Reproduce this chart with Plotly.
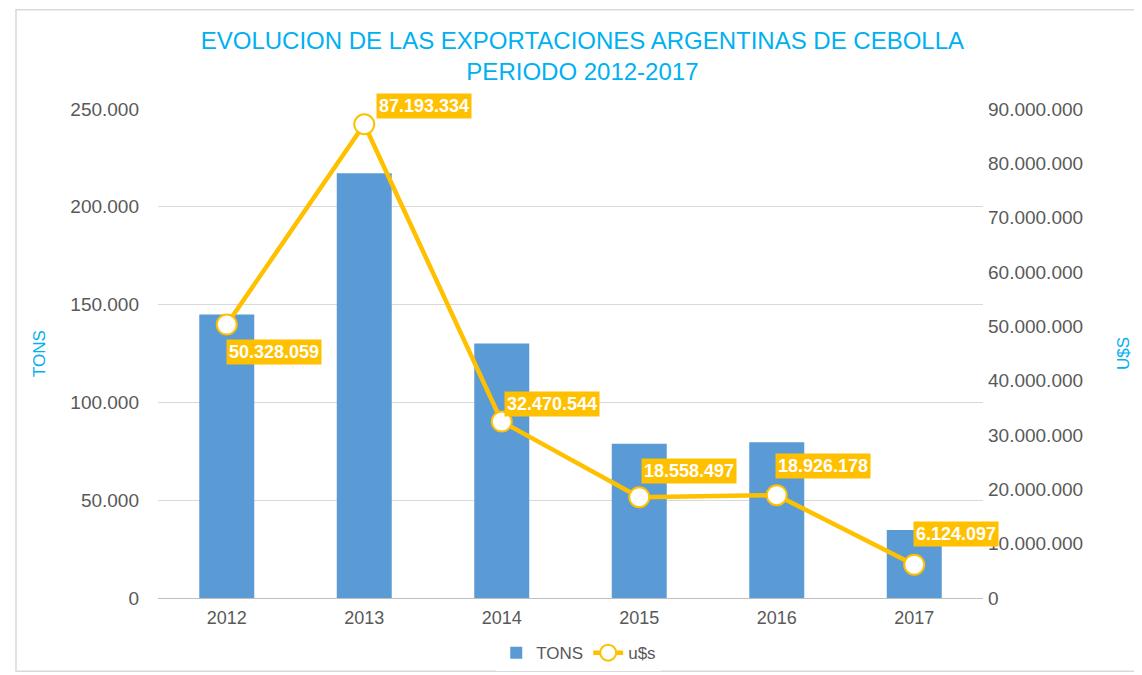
import plotly.graph_objs as go

# data
years = ["2012", "2013", "2014", "2015", "2016", "2017"]
tons = [145000, 217200, 130100, 78900, 79600, 34800]
usd = [50328059, 87193334, 32470544, 18558497, 18926178, 6124097]

# label offsets (px) for the value boxes
label_dx = [47, 60, 50, 50, 46, 42]
label_dy = [-27, 18, 18, 26, 29, 31]

blue_txt = "#00B0F0"
gold = "#FFC000"
grey_txt = "#595959"

pos = list(range(len(years)))

fig = go.Figure()

fig.add_trace(go.Bar(
    x=pos, y=tons, name="TONS",
    marker=dict(color="#5B9BD5", line=dict(width=0)),
    width=0.4
))

fig.add_trace(go.Scatter(
    x=pos, y=usd, name="u$s", yaxis="y2",
    mode="lines+markers",
    line=dict(color=gold, width=4.5),
    marker=dict(size=20, color="white", line=dict(color=gold, width=2))
))

annotations = []
for i, v, dx, dy in zip(pos, usd, label_dx, label_dy):
    annotations.append(dict(
        x=i, y=v, yref="y2", xref="x",
        text="<b>" + f"{v:,}".replace(",", ".") + "</b>",
        showarrow=False, xshift=dx, yshift=dy,
        font=dict(color="white", size=18, family="Liberation Sans, Arial"),
        bgcolor=gold, borderpad=2
    ))

# plot area should span x 150..975, y 109..597 in the 1142x675 page
W, H = 1142, 675
L, R, T, B = 150, 975, 109, 597
def px_x(p):
    return (p - L) / (R - L)
def px_y(p):
    return (B - p) / (B - T)

fig.update_layout(
    width=W, height=H,
    margin=dict(l=L, r=W - R, t=T - 8, b=H - B - 3),
    paper_bgcolor="white", plot_bgcolor="white",
    separators=",.",
    font=dict(family="Liberation Sans, Arial", color=grey_txt, size=17),
    title=dict(
        text="EVOLUCION DE LAS EXPORTACIONES ARGENTINAS DE CEBOLLA<br>PERIODO 2012-2017",
        x=0.503, xanchor="center", y=0.94, yanchor="middle",
        font=dict(color=blue_txt, size=24)
    ),
    xaxis=dict(
        range=[-0.5, len(years) - 0.5], automargin=False,
        tickvals=pos, ticktext=years, ticklabelstandoff=3,
        showline=True, linecolor="#BFBFBF", linewidth=1,
        ticks="", showgrid=False, zeroline=False,
        tickfont=dict(size=18, color=grey_txt)
    ),
    yaxis=dict(
        range=[0, 250000], dtick=50000, tickformat=",d", automargin=False,
        gridcolor="#D9D9D9", zeroline=False, ticklabelstandoff=18,
        title=dict(text="TONS", font=dict(color=blue_txt, size=17), standoff=20),
        tickfont=dict(size=19, color=grey_txt)
    ),
    yaxis2=dict(
        overlaying="y", side="right", automargin=False,
        range=[0, 90000000], dtick=10000000, tickformat=",d",
        showgrid=False, zeroline=False, ticklabelstandoff=4,
        title=dict(text="U$S", font=dict(color=blue_txt, size=17), standoff=35),
        tickfont=dict(size=19, color=grey_txt)
    ),
    legend=dict(
        orientation="h", x=0.51, xanchor="center", y=px_y(652), yanchor="middle",
        font=dict(size=17, color=grey_txt)
    ),
    annotations=annotations,
    shapes=[dict(
        type="rect", xref="paper", yref="paper",
        x0=px_x(8), x1=px_x(1136), y0=px_y(670), y1=px_y(10),
        line=dict(color="#D9D9D9", width=1.5)
    )]
)

fig.write_html("out.html")
